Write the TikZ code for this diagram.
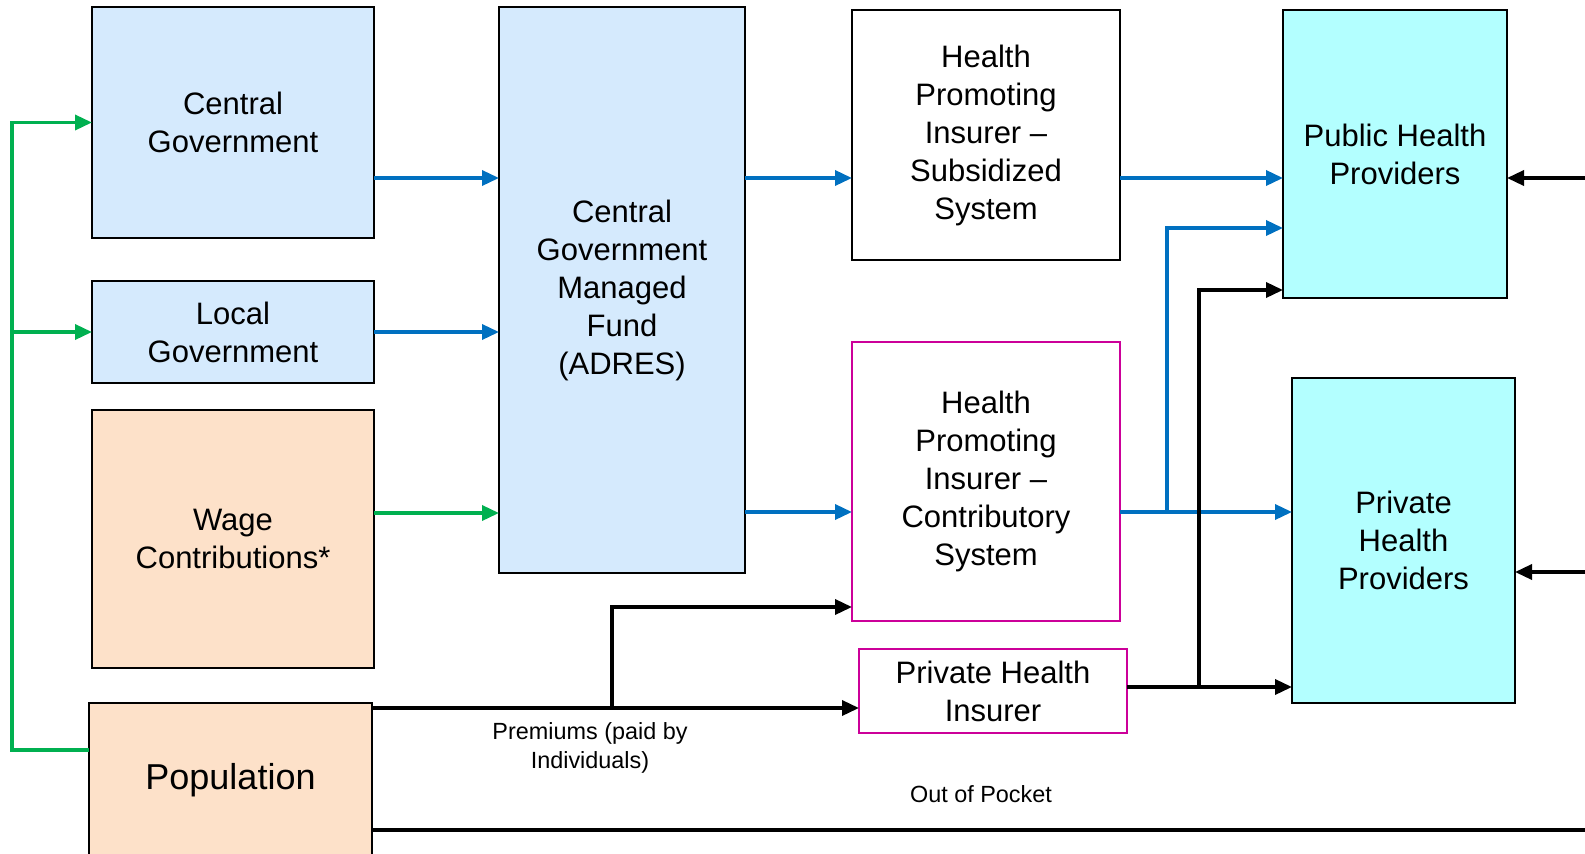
\documentclass[tikz,border=0pt]{standalone}
\usepackage{fontspec}
\setmainfont{Liberation Sans}
\usetikzlibrary{arrows.meta}

\definecolor{govblue}{HTML}{D5EAFD}
\definecolor{peach}{HTML}{FDE1C9}
\definecolor{provcyan}{HTML}{B3FFFF}
\definecolor{flowblue}{HTML}{0070C0}
\definecolor{flowgreen}{HTML}{00B050}
\definecolor{insmag}{HTML}{CC0099}

\begin{document}
\begin{tikzpicture}[x=1pt, y=-1pt,
    box/.style={draw=black, line width=2.5pt, inner sep=0pt, outer sep=0pt, align=center,
        font=\fontsize{31}{38}\selectfont},
    govbox/.style={box, fill=govblue},
    peachbox/.style={box, fill=peach},
    provbox/.style={box, fill=provcyan},
    insbox/.style={box, fill=white},
    magbox/.style={box, draw=insmag, fill=white},
    arr/.style={line width=3.5pt, -{Triangle[length=17pt,width=15pt]}},
    bluearr/.style={arr, draw=flowblue},
    greenarr/.style={arr, draw=flowgreen},
    blackarr/.style={arr, draw=black},
    note/.style={font=\fontsize{23.4}{29}\selectfont, align=center}]
    \useasboundingbox (0,0) rectangle (1585,854);
    \clip (0,0) rectangle (1585,854);
    % sources
    \node[govbox, minimum width=282, minimum height=231] (cg) at (233,122.5) {Central\\Government};
    \node[govbox, minimum width=282, minimum height=102] (lg) at (233,332) {Local\\Government};
    \node[peachbox, minimum width=282, minimum height=258] (wage) at (233,539) {Wage\\Contributions*};
    \node[peachbox, minimum width=283, minimum height=154, font=\fontsize{36}{42}\selectfont] (pop) at (230.5,780) {Population};
    % fund and insurers
    \node[govbox, minimum width=246, minimum height=566] (adres) at (622,290) {Central\\Government\\Managed\\Fund\\(ADRES)};
    \node[insbox, minimum width=268, minimum height=250] (hpis) at (986,135) {Health\\Promoting\\Insurer --\\Subsidized\\System};
    \node[magbox, minimum width=268, minimum height=279] (hpic) at (986,481.5) {Health\\Promoting\\Insurer --\\Contributory\\System};
    \node[magbox, minimum width=268, minimum height=84] (phi) at (993,691) {Private Health\\Insurer};
    % providers
    \node[provbox, minimum width=224, minimum height=288] (pub) at (1395,154) {Public Health\\Providers};
    \node[provbox, minimum width=223, minimum height=325] (priv) at (1403.5,540.5) {Private\\Health\\Providers};

    % levels and free ends
    \coordinate (r178) at (0,178);
    \coordinate (r228) at (0,228);
    \coordinate (r290) at (0,290);
    \coordinate (r512) at (0,512);
    \coordinate (r513) at (0,513);
    \coordinate (r572) at (0,572);
    \coordinate (r607) at (0,607);
    \coordinate (r687) at (0,687);
    \coordinate (r708) at (0,708);
    \coordinate (r830) at (0,830);
    \coordinate (gtop) at (12,122.5);
    \coordinate (gmid) at (12,332);
    \coordinate (gbot) at (12,750);
    \coordinate (prem) at (612,708);
    \coordinate (contr) at (1167,512);
    \coordinate (privbr) at (1199,687);
    \coordinate (redge1) at (1590,178);
    \coordinate (redge2) at (1590,572);
    \coordinate (redge3) at (1590,830);

    % green flows
    \draw[greenarr] (pop.west |- gbot) -- (gbot) -- (gtop) -- (cg.west);
    \draw[greenarr] (gmid) -- (lg.west);
    \draw[greenarr] (wage.east |- r513) -- (adres.west |- r513);

    % blue flows
    \draw[bluearr] (cg.east |- r178) -- (adres.west |- r178);
    \draw[bluearr] (lg.east) -- (adres.west |- lg.east);
    \draw[bluearr] (adres.east |- r178) -- (hpis.west |- r178);
    \draw[bluearr] (adres.east |- r512) -- (hpic.west |- r512);
    \draw[bluearr] (hpis.east |- r178) -- (pub.west |- r178);
    \draw[bluearr] (hpic.east |- r512) -- (priv.west |- r512);
    \draw[bluearr] (contr) |- (pub.west |- r228);

    % black flows
    \draw[blackarr] (pop.east |- r708) -- (phi.west |- r708);
    \draw[blackarr] (prem) |- (hpic.west |- r607);
    \draw[blackarr] (phi.east |- r687) -- (priv.west |- r687);
    \draw[blackarr] (privbr) |- (pub.west |- r290);
    \draw[blackarr] (redge1) -- (pub.east |- redge1);
    \draw[blackarr] (redge2) -- (priv.east |- redge2);
    \draw[line width=4pt] (pop.east |- r830) -- (redge3);

    % labels
    \node[note] (premlbl) at (590,748) {Premiums (paid by\\Individuals)};
    \node[note] (ooplbl) at (981,794) {Out of Pocket};
\end{tikzpicture}
\end{document}
